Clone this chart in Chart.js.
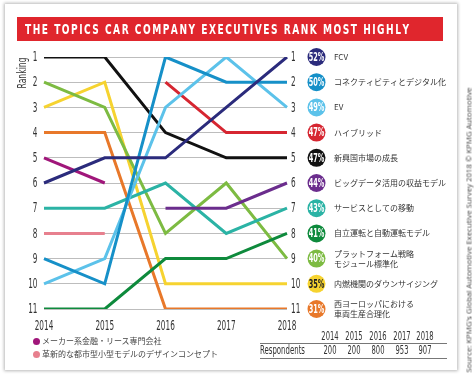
<!DOCTYPE html>
<html><head><meta charset="utf-8">
<script src="https://cdn.jsdelivr.net/npm/chart.js@4.4.0/dist/chart.umd.min.js"></script>
<style>
html,body{margin:0;padding:0;background:#fff;width:474px;height:378px;overflow:hidden;}
#card{position:absolute;left:5px;top:4px;width:452px;height:366px;background:#fff;box-shadow:0 0 3px 1px rgba(0,0,0,0.28);}
#titlebar{position:absolute;left:17px;top:17px;width:426px;height:24px;background:#e0262d;}
canvas{position:absolute;left:0;top:0;}
#source{position:absolute;left:468px;top:230px;transform:translate(-50%,-50%) rotate(-90deg);font-size:8px;color:#444;font-family:"Open Sans","Noto Sans",sans-serif;white-space:nowrap;}
.bl{position:absolute;left:42px;font-size:8px;color:#444;font-family:"Noto Sans CJK JP",sans-serif;white-space:nowrap;line-height:10px;}
.dot{position:absolute;left:33px;width:7px;height:7px;border-radius:50%;}
</style></head>
<body>
<div id="card"></div>
<div id="titlebar"></div>
<canvas id="c" width="474" height="378"></canvas>
<div id="source">Source: KPMG's Global Automotive Executive Survey 2018 © KPMG Automotive</div>
<div id="extras"></div>
<script>
const title = 'THE TOPICS CAR COMPANY EXECUTIVES RANK MOST HIGHLY';
const years = ['2014','2015','2016','2017','2018'];
const rankTicks = [1,2,3,4,5,6,7,8,9,10,11];
// rankings per year (null = not ranked that year)
const fcv           = [6, 5, 5, 3, 1];
const connectivity  = [9, 10, 1, 2, 2];
const ev            = [10, 9, 3, 1, 3];
const hybrid        = [null, null, 2, 4, 4];
const emerging      = [1, 1, 4, 5, 5];
const bigData       = [null, null, 7, 7, 6];
const mobility      = [7, 7, 6, 8, 7];
const autonomous    = [11, 11, 9, 9, 8];
const platform      = [2, 3, 8, 6, 9];
const iceDownsizing = [3, 2, 10, 10, 10];
const westEurope    = [4, 4, 11, 11, 11];
const captiveFinance= [5, 6, null, null, null];
const urbanDesign   = [8, 8, null, null, null];
const share2018 = [52, 50, 49, 47, 47, 44, 43, 41, 40, 35, 31];
const legendLabels = ['FCV','コネクティビティとデジタル化','EV','ハイブリッド','新興国市場の成長','ビッグデータ活用の収益モデル','サービスとしての移動','自立運転と自動運転モデル','プラットフォーム戦略\nモジュール標準化','内燃機関のダウンサイジング','西ヨーロッパにおける\n車両生産合理化'];
const extraLabels = ['メーカー系金融・リース専門会社','革新的な都市型小型モデルのデザインコンセプト'];
const respondentYears = ['2014','2015','2016','2017','2018'];
const respondents = [200, 200, 800, 953, 907];

const FONT = '"DejaVu Sans Condensed","Liberation Sans",sans-serif';
const colors = ['#2b2b7c','#1690c8','#5cc2ea','#d62631','#111111','#6b2d8d','#2bb3a5','#0e8a3c','#7dbb42','#f6d330','#e8782a'];
const extraColors = ['#a0167a','#e7808e'];
const seriesData = [fcv,connectivity,ev,hybrid,emerging,bigData,mobility,autonomous,platform,iceDownsizing,westEurope];

const datasets = seriesData.map((d,i)=>({label:legendLabels[i],data:d,borderColor:colors[i],backgroundColor:colors[i]}));
datasets.push({label:extraLabels[0],data:captiveFinance,borderColor:extraColors[0]});
datasets.push({label:extraLabels[1],data:urbanDesign,borderColor:extraColors[1]});

function ctext(c, txt, x, y, font, sx, align, color){
  c.save();
  c.font = font; c.fillStyle = color; c.textBaseline='middle'; c.textAlign = align;
  c.translate(x,y); c.scale(sx,1);
  c.fillText(txt,0,0);
  c.restore();
}

const drawPlugin = {
  id:'decor',
  afterDraw(chart){
    const c = chart.ctx, ys = chart.scales.y, xs = chart.scales.x;
    rankTicks.forEach(r=>{
      const y = ys.getPixelForValue(r);
      ctext(c, String(r), 37.5, y+0.5, '14px '+FONT, 0.58, 'right', '#333');
      ctext(c, String(r), 291, y+0.5, '14px '+FONT, 0.58, 'left', '#333');
    });
    years.forEach((yr,i)=>{
      ctext(c, yr, xs.getPixelForValue(i), 326, '14px '+FONT, 0.58, 'center', '#333');
    });
    c.save(); c.translate(23,73); c.rotate(-Math.PI/2);
    ctext(c,'Ranking',0,0,'12.5px '+FONT,0.68,'center','#333'); c.restore();
    const cx = 316.5;
    share2018.forEach((v,i)=>{
      const y = ys.getPixelForValue(rankTicks[i]);
      c.save();
      c.beginPath(); c.arc(cx,y,9,0,Math.PI*2); c.fillStyle=colors[i]; c.fill();
      c.restore();
      ctext(c, v+'%', cx, y+0.5, 'bold 13px '+FONT, 0.56, 'center', i===9 ? '#222' : '#fff');
      c.save();
      c.fillStyle='#333'; c.font='8px "Noto Sans CJK JP"'; c.textAlign='left'; c.textBaseline='middle';
      const lines = legendLabels[i].split('\n');
      lines.forEach((l,k)=>c.fillText(l,334,y+(k-(lines.length-1)/2)*10));
      c.restore();
    });
    const tx = [330,354,378,402,425];
    respondentYears.forEach((yr,i)=>ctext(c, yr, tx[i], 337, '13px '+FONT, 0.58, 'center', '#333'));
    respondents.forEach((v,i)=>ctext(c, String(v), tx[i], 351, '13px '+FONT, 0.58, 'center', '#333'));
    c.save(); c.font='13px '+FONT; const rw = c.measureText('Respondents').width; c.restore();
    ctext(c,'Respondents',260,351,'13px '+FONT,45/rw,'left','#333');
    c.save(); c.fillStyle='#777'; c.fillRect(260,343,187,1); c.fillRect(260,358,187,1); c.restore();
    c.save();
    c.font = 'bold 14px '+FONT; c.fillStyle='#fff'; c.textBaseline='middle'; c.textAlign='left';
    const sx = 0.72;
    const chars = title.split('');
    const widths = chars.map(ch=>c.measureText(ch).width*sx);
    const total = widths.reduce((a,b)=>a+b,0);
    const track = (384 - total)/(chars.length-1);
    let x = 25;
    chars.forEach((ch,k)=>{
      c.save(); c.translate(x,30); c.scale(sx,1); c.fillText(ch,0,0); c.restore();
      x += widths[k] + track;
    });
    c.restore();
  }
};

new Chart(document.getElementById('c'),{
  type:'line',
  data:{labels:years,datasets},
  options:{
    responsive:false,animation:false,events:[],
    layout:{padding:{left:0,right:167,top:57,bottom:43}},
    plugins:{legend:{display:false},tooltip:{enabled:false}},
    elements:{line:{borderWidth:3,tension:0,borderCapStyle:'butt',borderJoinStyle:'miter',fill:false},point:{radius:0}},
    scales:{
      x:{grid:{display:false,drawTicks:false},border:{display:false},
         ticks:{display:false},
         afterFit(s){s.height=26;}},
      y:{min:1,max:11,reverse:true,position:'left',
         afterBuildTicks(s){s.ticks=rankTicks.map(v=>({value:v}));},
         ticks:{display:false},
         grid:{color:'#bdbdbd',lineWidth:1,drawTicks:false},border:{display:false},
         afterFit(s){s.width=44;}},
      y2:{min:1,max:11,reverse:true,position:'right',
         ticks:{display:false},
         grid:{display:false,drawTicks:false},border:{display:false},
         afterFit(s){s.width=20;}}
    }
  },
  plugins:[drawPlugin]
});

const ex = document.getElementById('extras');
let h='';
extraLabels.forEach((l,i)=>{
  const y = 341 + i*13;
  h += `<div class="dot" style="top:${y-3.5}px;background:${extraColors[i]}"></div>`;
  h += `<div class="bl" style="top:${y-5}px">${l}</div>`;
});
ex.innerHTML = h;

const src = document.getElementById('source');
const sw = src.scrollWidth;
src.style.transform = `translate(-50%,-50%) rotate(-90deg) scaleX(${285/sw})`;
</script>
</body></html>
